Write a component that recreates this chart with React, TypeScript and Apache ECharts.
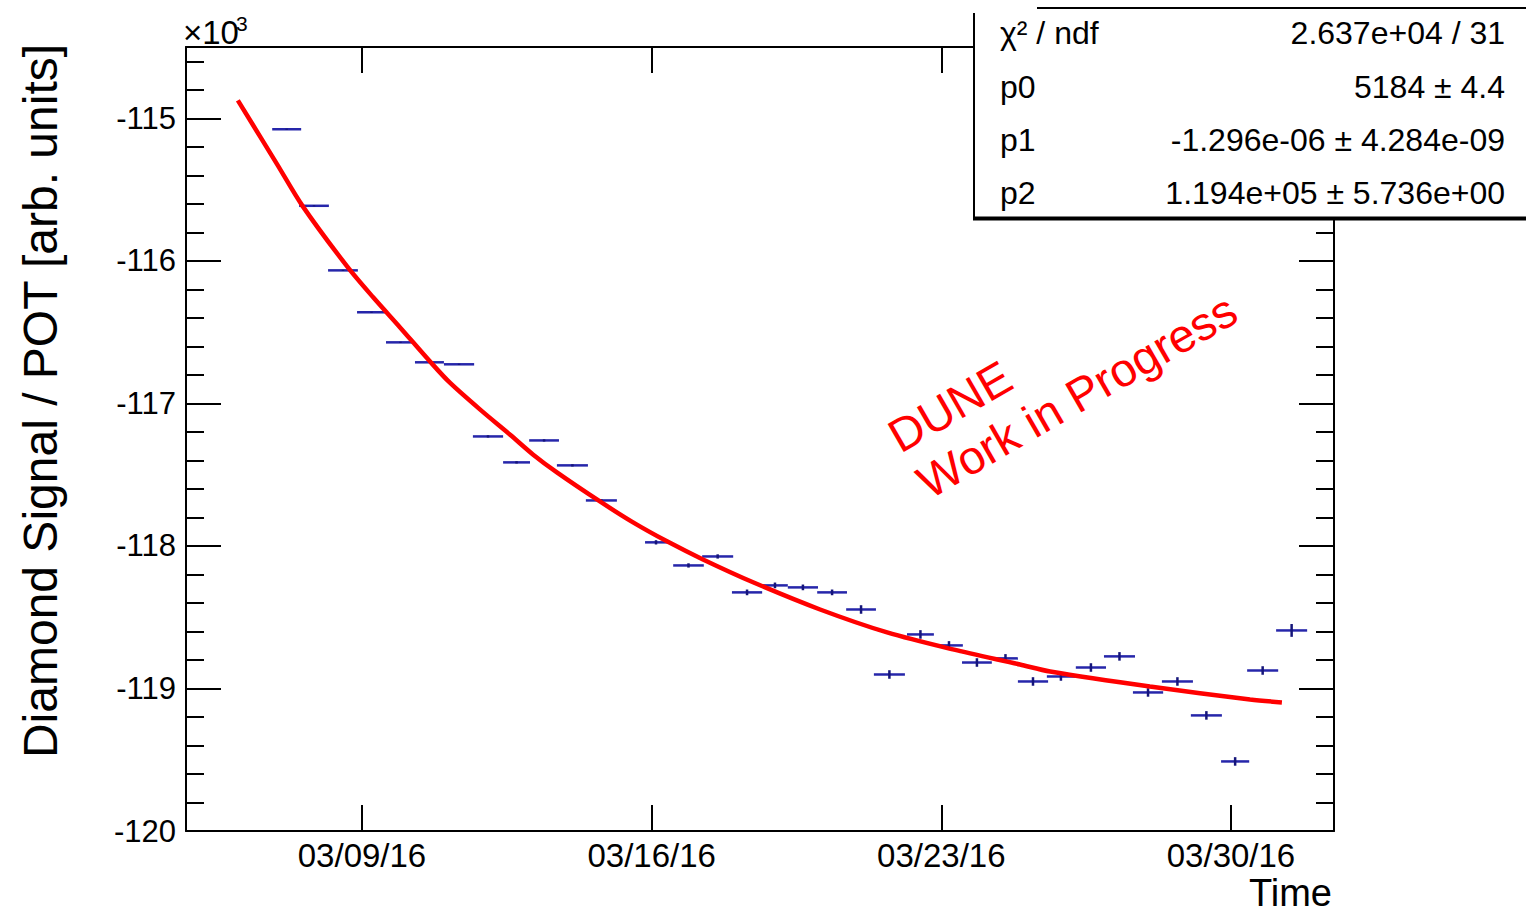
import React, { useEffect, useRef } from "react";
import * as echarts from "echarts";

// x values: days since 03/09/16 00:00
const binLow = [-2.17, -1.52, -0.82, -0.12, 0.58, 1.28, 1.98, 2.68, 3.41, 4.04, 4.71, 5.41, 6.84, 7.52, 8.22, 8.94, 9.67, 10.29, 11.0, 11.7, 12.37, 13.17, 13.85, 14.5, 15.25, 15.85, 16.55, 17.25, 17.93, 18.63, 19.33, 20.03, 20.76, 21.39, 22.09];
const binHigh = [-1.47, -0.8, -0.1, 0.58, 1.28, 1.98, 2.71, 3.41, 4.06, 4.76, 5.46, 6.16, 7.37, 8.26, 8.97, 9.67, 10.29, 11.02, 11.72, 12.42, 13.12, 13.82, 14.52, 15.22, 15.85, 16.58, 17.23, 17.98, 18.68, 19.36, 20.08, 20.78, 21.44, 22.14, 22.84];
const signal = [-115077, -115614, -116067, -116361, -116572, -116712, -116726, -117232, -117414, -117260, -117435, -117681, -117975, -118137, -118074, -118326, -118277, -118291, -118326, -118446, -118902, -118621, -118698, -118818, -118789, -118951, -118916, -118853, -118775, -119028, -118951, -119189, -119512, -118874, -118593];
const signalErr = [4, 4, 4, 4, 4, 4, 4, 8, 8, 8, 8, 8, 15, 15, 15, 20, 20, 20, 20, 30, 30, 30, 30, 30, 30, 30, 30, 30, 30, 30, 30, 30, 30, 30, 45];

const fitDays = [-3.0, -2.05, -1.43, -0.36, 0.27, 0.92, 1.64, 2.13, 2.92, 3.58, 4.13, 4.71, 5.75, 6.55, 7.37, 8.24, 9.45, 11.07, 12.69, 14.28, 15.9, 16.63, 19.04, 21.46, 22.23];
const fitValues = [-114874, -115323, -115618, -116039, -116256, -116467, -116705, -116857, -117060, -117220, -117358, -117484, -117688, -117835, -117968, -118095, -118255, -118446, -118607, -118726, -118832, -118881, -118986, -119077, -119098];

const tickDays = [0, 7, 14, 21];
const tickLabels = ["03/09/16", "03/16/16", "03/23/16", "03/30/16"];

const statNames = ["χ² / ndf", "p0", "p1", "p2"];
const statValues = ["2.637e+04 / 31", "5184 ± 4.4", "-1.296e-06 ± 4.284e-09", "1.194e+05 ± 5.736e+00"];

const FONT = "Liberation Sans, Arial, Helvetica, sans-serif";

export default function App() {
  const ref = useRef<HTMLDivElement>(null);
  useEffect(() => {
    if (!ref.current) return;
    const chart = echarts.init(ref.current, null, { renderer: "svg" });
    const xMin = -4.253;
    const xMax = 23.489;
    const yMin = -120000;
    const yMax = -114500;
    const black = "#000";
    const pointData = binLow.map((lo, i) => [lo, binHigh[i], signal[i], signalErr[i]]);
    const fitData = fitDays.map((d, i) => [d, fitValues[i]]);

    const yBase = (pos: "left" | "right", major: boolean) => ({
      type: "value",
      position: pos,
      min: yMin,
      max: yMax,
      interval: major ? 1000 : 200,
      axisLine: { show: major, onZero: false, lineStyle: { color: black, width: 2 } },
      axisTick: { show: true, inside: true, length: major ? 35 : 18, lineStyle: { color: black, width: 2 } },
      axisLabel: {
        show: major && pos === "left",
        showMaxLabel: false,
        margin: 10,
        color: black,
        fontFamily: FONT,
        fontSize: 31,
        formatter: (v: number) => (v % 1000 === 0 ? String(v / 1000) : ""),
      },
      splitLine: { show: false },
    });

    const xBase = (pos: "bottom" | "top") => ({
      type: "value",
      position: pos,
      min: xMin,
      max: xMax,
      axisLine: { show: true, onZero: false, lineStyle: { color: black, width: 2 } },
      axisTick: { show: true, inside: true, length: 26, customValues: tickDays, lineStyle: { color: black, width: 2 } },
      axisLabel: {
        show: pos === "bottom",
        customValues: tickDays,
        margin: 8,
        color: black,
        fontFamily: FONT,
        fontSize: 33,
        formatter: (v: number) => {
          const i = tickDays.indexOf(Math.round(v));
          return i >= 0 ? tickLabels[i] : "";
        },
      },
      splitLine: { show: false },
    });

    const graphics: any[] = [
      {
        type: "text",
        x: 40,
        y: 401,
        rotation: Math.PI / 2,
        style: { text: "Diamond Signal / POT [arb. units]", font: `48px ${FONT}`, fill: black, textAlign: "center", align: "center", textVerticalAlign: "middle", verticalAlign: "middle" },
      },
      {
        type: "text",
        x: 1332,
        y: 893,
        style: { text: "Time", font: `38px ${FONT}`, fill: black, textAlign: "right", align: "right", textVerticalAlign: "middle", verticalAlign: "middle" },
      },
      {
        type: "text",
        x: 183,
        y: 32,
        style: { text: "×10", font: `33px ${FONT}`, fill: black, textAlign: "left", align: "left", textVerticalAlign: "middle", verticalAlign: "middle" },
      },
      {
        type: "text",
        x: 236,
        y: 23,
        style: { text: "3", font: `21px ${FONT}`, fill: black, textAlign: "left", align: "left", textVerticalAlign: "middle", verticalAlign: "middle" },
      },
      {
        type: "text",
        x: 904,
        y: 460,
        rotation: Math.PI / 6,
        style: { text: "DUNE", font: `47px ${FONT}`, fill: "#ff0000", textAlign: "left", align: "left", textVerticalAlign: "bottom", verticalAlign: "bottom" },
      },
      {
        type: "text",
        x: 933,
        y: 506,
        rotation: Math.PI / 6,
        style: { text: "Work in Progress", font: `47px ${FONT}`, fill: "#ff0000", textAlign: "left", align: "left", textVerticalAlign: "bottom", verticalAlign: "bottom" },
      },
      {
        type: "rect",
        z: 100,
        shape: { x: 975, y: 9, width: 560, height: 208 },
        style: { fill: "#fff" },
      },
      { type: "line", z: 101, shape: { x1: 1037, y1: 8, x2: 1526, y2: 8 }, style: { stroke: black, lineWidth: 2 } },
      { type: "line", z: 101, shape: { x1: 974, y1: 13, x2: 974, y2: 219 }, style: { stroke: black, lineWidth: 2 } },
      { type: "line", z: 101, shape: { x1: 973, y1: 218.5, x2: 1526, y2: 218.5 }, style: { stroke: black, lineWidth: 4 } },
    ];
    const rowY = [33, 87, 140, 193];
    statNames.forEach((n, i) => {
      graphics.push({
        type: "text",
        z: 102,
        x: 1000,
        y: rowY[i],
        style: { text: n, font: `32px ${FONT}`, fill: "#000", textAlign: "left", align: "left", textVerticalAlign: "middle", verticalAlign: "middle" },
      });
      graphics.push({
        type: "text",
        z: 102,
        x: 1505,
        y: rowY[i],
        style: { text: statValues[i], font: `32px ${FONT}`, fill: "#000", textAlign: "right", align: "right", textVerticalAlign: "middle", verticalAlign: "middle" },
      });
    });

    chart.setOption({
      animation: false,
      backgroundColor: "#fff",
      grid: { left: 186, top: 47, width: 1148, height: 784, containLabel: false },
      xAxis: [xBase("bottom"), xBase("top")],
      yAxis: [yBase("left", true), yBase("left", false), yBase("right", true), yBase("right", false)],
      series: [
        {
          type: "custom",
          xAxisIndex: 0,
          yAxisIndex: 0,
          data: pointData,
          encode: { x: [0, 1], y: 2 },
          renderItem: (params: any, api: any) => {
            const lo = api.value(0);
            const hi = api.value(1);
            const v = api.value(2);
            const e = api.value(3);
            const mid = (lo + hi) / 2;
            const a = api.coord([lo, v]);
            const b = api.coord([hi, v]);
            const t = api.coord([mid, v + e]);
            const u = api.coord([mid, v - e]);
            return {
              type: "group",
              children: [
                { type: "line", shape: { x1: a[0], y1: a[1], x2: b[0], y2: b[1] }, style: { stroke: "#2626aa", lineWidth: 2.5 } },
                { type: "line", shape: { x1: t[0], y1: t[1], x2: u[0], y2: u[1] }, style: { stroke: "#15157a", lineWidth: 2.5 } },
              ],
            };
          },
          z: 2,
        },
        {
          type: "line",
          xAxisIndex: 0,
          yAxisIndex: 0,
          data: fitData,
          smooth: 0.3,
          showSymbol: false,
          symbol: "none",
          lineStyle: { color: "#ff0000", width: 4.5 },
          z: 3,
        },
      ],
      graphic: graphics,
    });
    return () => chart.dispose();
  }, []);
  return <div ref={ref} style={{ position: "absolute", left: 0, top: 0, width: 1526, height: 914 }} />;
}
